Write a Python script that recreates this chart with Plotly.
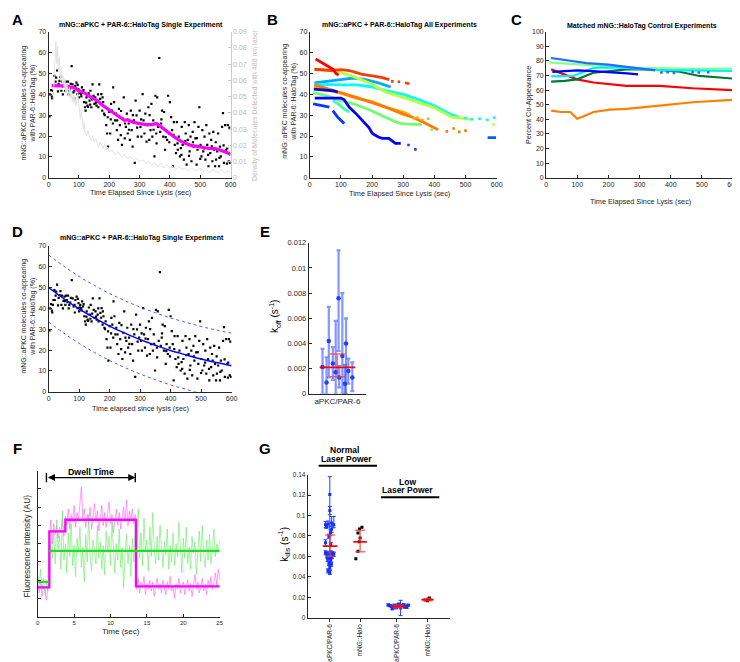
import plotly.graph_objects as go

W, H = 740, 662
FONT = "Liberation Sans, Arial, Helvetica, sans-serif"
AXC = '#262626'

# ---------------- Panel A / D : single experiment ----------------
single_t = [3, 11, 14, 16, 19, 23, 25, 28, 31, 36, 39, 42, 44, 49, 52, 55, 57, 60, 64, 68, 71, 76, 79, 82, 85, 88, 92, 95, 98, 100,
            104, 107, 110, 113, 117, 120, 122, 125, 128, 132, 135, 138, 141, 145, 148, 151, 154, 158, 161, 164, 167, 170, 174, 177, 180,
            183, 187, 190, 193, 196, 200, 203, 206, 209, 213, 216, 219, 222, 225, 229, 232, 235, 238, 242, 245, 248, 251, 255, 258, 261,
            264, 268, 271, 274, 277, 281, 284, 287, 290, 294, 297, 300, 303, 306, 310, 313, 316, 319, 323, 326, 329, 332, 336, 339, 342,
            345, 349, 352, 355, 358, 361, 365, 368, 371, 374, 378, 381, 384, 387, 391, 394, 397, 400, 404, 407, 410, 413, 416, 420, 423,
            426, 429, 433, 436, 439, 442, 446, 449, 452, 455, 459, 462, 465, 468, 471, 475, 478, 481, 484, 488, 491, 494, 497, 501, 504,
            507, 510, 514, 517, 520, 523, 527, 530, 533, 536, 540, 543, 546, 549, 552, 556, 559, 562, 565, 568, 572, 575, 578, 582, 585,
            588, 591, 594, 598,
            5, 8, 12, 20, 33, 47, 53, 62, 66, 73, 86, 96, 102, 108, 115, 124, 130, 137, 143, 156, 163, 172, 178, 185, 195, 205, 212, 226,
            239, 252, 265, 278, 292, 305, 318, 333, 346, 356, 372, 386, 398, 412, 425, 438, 451, 463, 476, 489, 500, 513, 526, 538, 551,
            563, 577, 589, 596]
single_v = [29.4, 38.9, 41.7, 44.0, 48.8, 46.1, 48.0, 51.4, 41.4, 46.4, 48.3, 41.7, 46.1, 43.6, 45.6, 41.7, 46.1, 44.0, 46.1, 41.7,
            42.8, 53.5, 44.8, 40.9, 41.7, 44.0, 45.6, 40.1, 42.5, 38.5,
            41.7, 40.1, 43.3, 40.9, 36.2, 33.8, 32.2, 38.5, 34.6, 40.4, 37.0, 41.7, 33.8, 44.8, 39.3, 35.4, 38.5, 34.6, 37.0, 33.8, 44.8,
            37.8, 40.1, 32.2, 36.2,
            30.7, 33.8, 25.2, 21.2, 14.9, 31.5, 21.2, 35.4, 32.2, 43.3, 36.2, 27.5, 30.7, 22.8, 18.1, 33.0, 25.2, 20.4, 15.7, 28.3, 38.5,
            18.9, 24.4, 30.7, 21.2,
            26.0, 18.1, 32.2, 22.8, 14.9, 27.5, 7.1, 37.0, 29.9, 19.7, 26.0, 32.2, 24.4, 19.7, 40.1, 27.5, 21.2, 30.7, 17.3, 25.2, 33.8,
            18.1, 22.8, 35.4, 19.7,
            27.5, 10.2, 39.3, 21.2, 38.5, 24.4, 57.4, 22.0, 26.0, 32.2, 19.7, 31.5, 13.4, 22.8, 18.1, 39.3, 21.2, 36.2, 29.1, 22.8, 5.5,
            26.7, 15.7, 11.8, 26.7,
            13.4, 19.7, 10.2, 14.2, 24.4, 15.7, 8.7, 26.7, 21.2, 6.3, 18.1, 25.2, 12.6, 19.7, 7.9, 22.0, 14.9, 26.7, 18.9, 6.3, 13.4, 24.4,
            33.8, 15.7, 10.2,
            22.8, 12.6, 19.7, 8.7, 25.2, 15.7, 5.5, 21.2, 11.8, 18.1, 7.9, 22.0, 13.4, 5.5, 8.7, 12.6, 21.2, 5.5, 14.9, 10.2, 24.4, 31.0,
            7.1, 25.2, 13.4,
            6.8, 25.2, 7.9, 7.1,
            40.0, 42.0, 38.0, 44.0, 45.0, 40.0, 43.5, 43.0, 40.0, 45.0, 38.0, 44.5, 40.5, 39.0, 42.0, 36.0, 34.0, 35.0, 37.5, 36.0, 40.0,
            35.5, 38.5, 30.0, 29.0, 28.0, 26.0, 27.5,
            32.0, 26.0, 23.0, 30.0, 24.0, 28.0, 25.5, 30.0, 23.0, 16.5, 28.0, 19.5, 17.0, 20.5, 16.5, 11.0, 17.5, 10.5, 17.0, 19.0, 9.0,
            14.0, 11.0, 15.0, 17.0,
            9.5, 15.5, 14.0, 24.0]

# magenta running average (panel A)
avg_t = [10, 30, 50, 70, 90, 100, 110, 120, 140, 160, 180, 200, 220, 240, 250, 260, 280, 300, 320, 340, 355, 370, 390, 410, 430,
         450, 470, 490, 510, 530, 550, 560, 570, 580, 590, 600]
avg_v = [44.2, 44.2, 44.0, 43.6, 42.8, 41.5, 41.0, 40.5, 38.5, 37.0, 34.5, 32.5, 30.5, 28.5, 27.5, 27.8, 26.5, 26.0, 25.5, 25.5,
         26.0, 24.5, 22.0, 20.0, 18.0, 16.5, 15.5, 15.0, 14.5, 14.0, 14.0, 13.5, 13.2, 12.5, 12.0, 11.0]

# density of molecules (right axis, panel A)
dens_t = [15, 18, 21, 24, 27, 30, 33, 36, 39, 42, 45, 48, 51, 54, 57, 60, 63, 66, 69, 72, 75, 78, 81, 84, 87, 90, 93, 96, 99, 102,
          105, 108, 111, 114, 117, 120, 125, 130, 135, 140, 145, 150, 155, 160, 165, 170, 175, 180, 185, 190, 195, 200,
          210, 220, 230, 240, 250, 260, 270, 280, 290, 300, 310, 320, 330, 340, 350, 360, 370, 380, 390, 400, 410, 420, 430,
          440, 450, 460, 470, 480, 490, 500, 510, 520, 530, 540, 550, 560, 570, 580, 590, 600]
dens_v = [0.048, 0.062, 0.078, 0.084, 0.070, 0.081, 0.066, 0.074, 0.060, 0.068,
          0.058, 0.063, 0.055, 0.061, 0.052, 0.058, 0.054, 0.050, 0.056, 0.049,
          0.053, 0.047, 0.051, 0.046, 0.050, 0.044, 0.048, 0.052, 0.047, 0.040,
          0.036, 0.042, 0.033, 0.030, 0.034, 0.028, 0.026, 0.029, 0.025, 0.023,
          0.026, 0.022, 0.024, 0.021, 0.019, 0.022, 0.020, 0.018, 0.021, 0.017,
          0.019, 0.016, 0.017, 0.014, 0.016, 0.013, 0.014, 0.012, 0.013, 0.011,
          0.012, 0.010, 0.011, 0.009, 0.010, 0.008, 0.009, 0.007, 0.009, 0.006,
          0.008, 0.006, 0.007, 0.005, 0.007, 0.005, 0.006, 0.004, 0.006, 0.005,
          0.004, 0.006, 0.004, 0.005, 0.003, 0.005, 0.004, 0.003, 0.005, 0.003,
          0.004, 0.003]

# ---------------- Panel B : all experiments ----------------
B_red_t = [19, 30, 45, 60, 75, 84, 88, 93]
B_red_v = [56.9, 56.0, 54.8, 53.4, 52.0, 50.0, 49.5, 49.2]
B_orred_t = [15, 40, 70, 100, 127, 150, 169, 201, 233, 255]
B_orred_v = [52.0, 51.6, 51.4, 51.8, 51.4, 50.4, 49.5, 48.8, 48.0, 47.0]
B_orred_dots_t = [265, 286, 310, 316]
B_orred_dots_v = [46.2, 46.0, 45.4, 45.2]
B_yg_t = [15, 50, 100, 150, 200, 244, 300, 350, 400, 456, 490, 520]
B_yg_v = [52.0, 51.6, 50.5, 48.0, 44.8, 41.0, 38.5, 36.0, 33.5, 29.0, 28.6, 28.0]
B_yg_dots_t = [590]
B_yg_dots_v = [25.5]
B_cyan_t = [15, 60, 100, 150, 200, 250, 300, 350, 400, 450, 480]
B_cyan_v = [44.5, 44.8, 44.5, 44.5, 43.5, 41.5, 40.0, 37.5, 34.5, 30.5, 29.0]
B_cyan_dots_t = [500, 520, 545, 570, 592]
B_cyan_dots_v = [28.6, 28.0, 28.3, 27.8, 28.8]
B_sky_t = [15, 50, 100, 140, 180, 220, 260]
B_sky_v = [45.5, 46.0, 47.0, 47.8, 47.0, 45.5, 43.5]
B_or_t = [15, 50, 100, 150, 200, 250, 300, 330, 360, 380, 400, 412]
B_or_v = [44.5, 43.0, 40.5, 38.5, 36.0, 33.5, 30.5, 29.0, 27.0, 25.5, 24.0, 23.0]
B_or_dots_t = [440, 462, 480, 500]
B_or_dots_v = [22.2, 23.6, 22.0, 22.6]
B_lor_t = [15, 50, 100, 150, 200, 250, 300, 322]
B_lor_v = [43.5, 42.5, 40.5, 38.0, 36.5, 33.5, 31.5, 30.0]
B_lor_dots_t = [335, 346, 362, 380]
B_lor_dots_v = [28.5, 28.9, 27.7, 28.3]
B_lg_t = [10, 50, 100, 150, 200, 250, 275, 300, 330, 360]
B_lg_v = [40.8, 39.5, 37.0, 35.0, 32.0, 28.5, 26.8, 25.8, 25.5, 25.5]
B_lg_dots_t = [391]
B_lg_dots_v = [23.0]
B_aq_t = [74, 90, 110, 127]
B_aq_v = [37.0, 35.5, 33.0, 31.5]
B_blue_t = [16, 50, 100, 110, 127, 150, 169, 190, 201, 220, 233, 254, 275, 292]
B_blue_v = [38.2, 38.3, 38.2, 37.5, 33.8, 30.5, 27.5, 24.0, 21.2, 19.5, 18.9, 18.9, 16.5, 16.5]
B_blue_dots_t = [317, 339]
B_blue_dots_v = [15.7, 13.6]
B_dblue_t = [13, 40, 74, 90]
B_dblue_v = [42.5, 42.0, 41.7, 41.0]
B_blue2_t = [11, 40, 63]
B_blue2_v = [35.4, 34.5, 33.8]
B_blue3_t = [74, 90, 111]
B_blue3_v = [32.2, 29.0, 26.0]
B_blue4_t = [571, 598]
B_blue4_v = [19.2, 19.2]

# ---------------- Panel C : controls ----------------
C_lblue_t = [15, 70, 130, 200, 260, 320, 350]
C_lblue_v = [82.0, 80.5, 78.5, 77.5, 76.0, 74.0, 73.5]
C_lblue_dots_t = [370, 390, 410, 470, 490, 520]
C_lblue_dots_v = [72.0, 72.3, 71.8, 72.5, 72.0, 72.3]
C_blue_t = [20, 60, 100, 150, 200, 237, 260, 295]
C_blue_v = [72.5, 73.2, 73.5, 73.0, 72.5, 72.0, 71.5, 70.8]
C_cyan_t = [16, 50, 88, 120, 152, 200, 258, 364, 470, 598]
C_cyan_v = [69.4, 69.5, 69.7, 72.5, 75.3, 75.6, 75.3, 73.7, 73.5, 73.2]
C_lg_t = [8, 100, 152, 258, 364, 470, 598]
C_lg_v = [79.0, 78.0, 77.0, 75.5, 74.8, 74.6, 74.8]
C_dg_t = [16, 60, 99, 152, 205, 258, 343, 428, 492, 600]
C_dg_v = [65.8, 66.3, 67.4, 71.9, 73.0, 74.2, 74.2, 72.6, 69.7, 67.9]
C_red_t = [16, 60, 99, 152, 258, 364, 470, 600]
C_red_v = [74.2, 70.5, 67.4, 65.2, 62.9, 62.9, 61.3, 60.0]
C_or_t = [16, 46, 78, 99, 115, 152, 205, 258, 364, 470, 600]
C_or_v = [46.0, 45.0, 45.0, 40.4, 41.6, 45.0, 46.7, 47.2, 49.4, 51.7, 53.3]

# ---------------- Panel D : exponential fit ----------------
fit_t = [0, 50, 100, 150, 200, 250, 300, 350, 400, 450, 500, 550, 600]
fit_v = [50.0, 44.6, 39.7, 35.4, 31.5, 28.1, 25.0, 22.3, 19.8, 17.7, 15.7, 14.0, 12.5]
fit_upper = [65.6, 60.2, 55.3, 51.0, 47.1, 43.7, 40.6, 37.9, 35.4, 33.3, 31.3, 29.6, 28.1]
fit_lower = [33.5, 28.1, 23.2, 18.9, 15.0, 11.6, 8.5, 5.8, 3.3, 1.2, -0.8, -2.5, -4.0]

# ---------------- Panel E : koff ----------------
E_x = [0.74, 0.81, 0.85, 0.92, 0.97, 1.02, 1.03, 1.086, 1.13, 1.15, 1.19, 1.26]
E_k = [0.00212, 0.00089, 0.0042, 0.0024, 0.0017, 0.0076, 0.0013, 0.0030, 0.0008, 0.0040, 0.0018, 0.0013]
E_hi = [0.00356, 0.0029, 0.0069, 0.0037, 0.0058, 0.0114, 0.0022, 0.0080, 0.0023, 0.0060, 0.0028, 0.0025]
E_lo = [0.0, 0.0, 0.0013, 0.0011, 0.0, 0.0034, 0.0005, 0.0, 0.0, 0.0, 0.0008, 0.0002]
E_mean = 0.0021
E_sd_lo, E_sd_hi = 0.00135, 0.00315

# ---------------- Panel F : example trace ----------------
green_trace = [2.3, 1.8, 2.6, 1.5, 2.1, 1.2, 1.9, 1.4,
               2.2, 4.1, 3.2, 4.8, 2.9, 5.3, 3.7, 4.4, 2.6, 5.8,
               3.1, 4.0, 2.4, 4.6, 3.3, 5.1, 2.8, 3.9, 2.2, 4.3,
               3.5, 4.9, 2.7, 3.8, 1.9, 4.5, 3.0, 5.6, 3.4, 2.5,
               4.2, 3.6, 2.9, 5.0, 3.2, 4.1, 2.6, 3.9, 2.3, 4.7,
               3.5, 4.4, 2.8, 5.2, 3.7, 2.4, 4.0, 3.1, 4.8, 2.7,
               3.8, 1.6, 3.4, 4.5, 2.9, 3.9, 2.2, 4.3, 3.0, 5.1,
               3.5, 5.9, 3.2, 4.6, 2.8, 5.4, 3.6, 4.2, 2.5, 4.9,
               3.3, 5.7, 3.8, 2.9, 4.4, 3.1, 5.0, 3.6, 2.7, 4.1,
               3.4, 4.8, 2.6, 3.9, 3.0, 4.6, 2.8, 4.0, 3.3, 5.2,
               3.7, 2.4, 4.3, 3.2, 4.9, 2.9, 3.8, 2.6, 4.4, 3.5,
               4.1, 2.3, 3.6, 4.7, 3.0, 5.0, 3.4, 2.7, 4.2, 3.1,
               4.5, 2.9, 3.7, 4.8, 3.3, 4.0, 3.5, 4.2]
magenta_trace = [1.9, 1.3, 2.0, 1.1, 1.7, 1.4, 0.9, 1.6,
                 4.2, 5.3, 4.0, 5.1, 4.5, 5.0, 4.3, 4.9, 4.6, 5.4, 4.4,
                 5.5, 5.0, 5.9, 4.8, 5.6, 5.2, 6.1, 4.9, 5.7, 5.3,
                 6.4, 7.1, 5.4, 5.9, 4.9, 5.6, 5.1, 6.0, 4.8, 5.5,
                 6.2, 5.2, 5.8, 4.7, 5.4, 6.1, 5.0, 5.7, 4.9, 5.5,
                 6.3, 5.1, 5.6, 4.6, 5.3, 5.9, 5.0, 5.7, 4.8, 5.4,
                 6.0, 5.2, 6.4, 5.0, 5.8, 5.3, 5.9, 5.1, 5.6,
                 1.5, 2.1, 1.3, 1.9, 1.6, 2.2, 1.2, 1.8, 1.5, 2.0,
                 1.4, 1.9, 1.1, 1.7, 2.1, 1.5, 1.8, 1.3, 2.0, 1.6,
                 1.2, 1.9, 1.5, 2.2, 1.4, 1.7, 1.0, 1.8, 1.5, 2.1,
                 1.3, 1.7, 1.9, 1.2, 1.6, 2.0, 1.4, 1.8, 1.1, 1.7,
                 2.3, 1.5, 1.9, 1.3, 1.6, 2.1, 1.4, 1.8, 1.2, 2.0,
                 1.6, 2.2, 1.5, 1.9, 2.4, 1.7, 2.6, 2.0]
frame_dt = 0.2
magenta_fit_t = [0, 1.6, 3.8, 13.5, 25]
magenta_fit_v = [1.6, 4.67, 5.31, 1.66, 1.66]
green_fit_t = [0.1, 1.5, None, 1.6, 25]
green_fit_v = [1.91, 1.91, None, 3.6, 3.6]
dwell_start, dwell_end, dwell_level = 1.2, 13.4, 7.62

# ---------------- Panel G : kdis ----------------
G_tickvals = [1, 2, 3.2, 4.2]
G_ticktext = ['aPKC/PAR-6', 'mNG::Halo', 'aPKC/PAR-6', 'mNG::Halo']
G1_x = [1.01, 1.01, 0.87, 0.95, 1.07, 1.14, 0.90, 1.07, 1.03, 0.98, 0.87, 1.04, 0.87, 0.95, 1.04, 1.10, 1.14, 0.92, 1.01, 1.08,
        0.94, 1.04, 0.98, 1.06, 1.01, 0.95, 1.01]
G1_y = [0.1206, 0.1048, 0.091, 0.0916, 0.0926, 0.091, 0.0894, 0.0865, 0.083, 0.0797, 0.0732, 0.0716, 0.0635, 0.0626, 0.0635,
        0.0626, 0.062, 0.0603, 0.0587, 0.0597, 0.0571, 0.0561, 0.0529, 0.0523, 0.049, 0.0458, 0.0442]
G1_eplus = [0.0174, 0.004, 0.003, 0.003, 0.0064, 0.008, 0.002, 0.003, 0.003, 0.002, 0.003, 0.002, 0.002, 0.002, 0.002, 0.002,
            0.002, 0.002, 0.002, 0.002, 0.002, 0.002, 0.002, 0.002, 0.002, 0.002, 0.002]
G1_eminus = [0.059, 0.004, 0.003, 0.003, 0.003, 0.003, 0.002, 0.003, 0.003, 0.002, 0.003, 0.002, 0.002, 0.002, 0.002, 0.002,
             0.002, 0.002, 0.002, 0.002, 0.002, 0.002, 0.002, 0.002, 0.002, 0.002, 0.002]
G2_x = [2.06, 1.98, 1.93, 2.00, 1.97, 1.93, 1.86]
G2_y = [0.0884, 0.0868, 0.0829, 0.078, 0.0742, 0.065, 0.0577]
G3_x = [2.92, 2.97, 3.02, 3.07, 3.12, 3.17, 3.22, 3.27, 3.32, 3.37, 3.42, 3.47, 3.52, 3.57, 3.05, 3.25, 3.45, 3.15]
G3_y = [0.0125, 0.0118, 0.0112, 0.0105, 0.0122, 0.0098, 0.0108, 0.0132, 0.0095, 0.0118, 0.0126, 0.0112, 0.0102, 0.0122,
        0.0088, 0.0128, 0.0105, 0.0115]
G3_err = [0.001, 0.001, 0.001, 0.001, 0.001, 0.001, 0.001, 0.001, 0.0075, 0.001, 0.001, 0.001, 0.001, 0.001, 0.001, 0.001,
          0.001, 0.001]
G4_x = [4.14, 4.20, 4.26, 4.22]
G4_y = [0.0172, 0.0165, 0.0192, 0.0182]
G_centers = [1.02, 2.0, 3.24, 4.2]
G_means = [0.070, 0.0742, 0.011, 0.0175]
G_sd_lo = [0.060, 0.0645, 0.0098, 0.0166]
G_sd_hi = [0.081, 0.0855, 0.0122, 0.0186]
G_mean_hw = [0.24, 0.22, 0.25, 0.2]

# ====================================================================
fig = go.Figure()


def xdom(a, b):
    return [a / W, b / W]


def ydom(top, bot):
    return [1 - bot / H, 1 - top / H]


def axis(**kw):
    d = dict(showline=True, linecolor=AXC, linewidth=1, ticks='inside', ticklen=3, tickwidth=1, tickcolor=AXC,
             tickfont=dict(family=FONT, size=7, color=AXC), showgrid=False, zeroline=False, mirror=False,
             fixedrange=True)
    d.update(kw)
    return d


# Panel A
fig.add_trace(go.Scatter(x=dens_t, y=dens_v, mode='lines', line=dict(color='#e2e2e2', width=1),
                         xaxis='x', yaxis='y2'))
fig.add_trace(go.Scatter(x=single_t, y=single_v, mode='markers',
                         marker=dict(symbol='square', size=2.2, color='black'), xaxis='x', yaxis='y'))
fig.add_trace(go.Scatter(x=avg_t, y=avg_v, mode='lines', line=dict(color='#ff00ff', width=3.2),
                         xaxis='x', yaxis='y'))

# Panel B
B_lines = [
    (B_sky_t, B_sky_v, '#00aaff'), (B_cyan_t, B_cyan_v, '#00ffff'), (B_yg_t, B_yg_v, '#b8ff40'),
    (B_lg_t, B_lg_v, '#70ff70'), (B_aq_t, B_aq_v, '#40ffa8'),
    (B_lor_t, B_lor_v, '#ffb000'), (B_or_t, B_or_v, '#ff7a00'), (B_orred_t, B_orred_v, '#ff3a00'),
    (B_red_t, B_red_v, '#ff0000'), (B_blue_t, B_blue_v, '#0000ff'), (B_dblue_t, B_dblue_v, '#0a10c8'),
    (B_blue2_t, B_blue2_v, '#0838ff'), (B_blue3_t, B_blue3_v, '#0838ff'), (B_blue4_t, B_blue4_v, '#0060ff'),
]
for tt, vv, col in B_lines:
    fig.add_trace(go.Scatter(x=tt, y=vv, mode='lines', line=dict(color=col, width=2.8),
                             xaxis='x2', yaxis='y3'))
B_dots = [
    (B_orred_dots_t, B_orred_dots_v, '#ff3a00'), (B_yg_dots_t, B_yg_dots_v, '#b8ff40'),
    (B_cyan_dots_t, B_cyan_dots_v, '#00ffff'), (B_or_dots_t, B_or_dots_v, '#ff7a00'),
    (B_lor_dots_t, B_lor_dots_v, '#ffb000'), (B_lg_dots_t, B_lg_dots_v, '#70ff70'),
    (B_blue_dots_t, B_blue_dots_v, '#2040ff'),
]
for tt, vv, col in B_dots:
    fig.add_trace(go.Scatter(x=tt, y=vv, mode='markers', marker=dict(symbol='square', size=2.6, color=col),
                             xaxis='x2', yaxis='y3'))

# Panel C
C_lines = [
    (C_or_t, C_or_v, '#ff8000'), (C_red_t, C_red_v, '#ff0000'), (C_dg_t, C_dg_v, '#007a3a'),
    (C_lg_t, C_lg_v, '#88ff88'), (C_cyan_t, C_cyan_v, '#00eeff'), (C_blue_t, C_blue_v, '#0000ff'),
    (C_lblue_t, C_lblue_v, '#1e6eff'),
]
for tt, vv, col in C_lines:
    fig.add_trace(go.Scatter(x=tt, y=vv, mode='lines', line=dict(color=col, width=2.2),
                             xaxis='x3', yaxis='y4'))
fig.add_trace(go.Scatter(x=C_lblue_dots_t, y=C_lblue_dots_v, mode='markers',
                         marker=dict(symbol='square', size=2.5, color='#1e6eff'), xaxis='x3', yaxis='y4'))

# Panel D
fig.add_trace(go.Scatter(x=single_t, y=single_v, mode='markers',
                         marker=dict(symbol='square', size=2.2, color='black'), xaxis='x4', yaxis='y5'))
fig.add_trace(go.Scatter(x=fit_t, y=fit_v, mode='lines', line=dict(color='#0000ff', width=1.5, shape='spline'),
                         xaxis='x4', yaxis='y5'))
for bnd in (fit_upper, fit_lower):
    fig.add_trace(go.Scatter(x=fit_t, y=bnd, mode='lines',
                             line=dict(color='#3050ff', width=0.9, dash='dot', shape='spline'),
                             xaxis='x4', yaxis='y5'))

# Panel E
E_plus = [h - k for h, k in zip(E_hi, E_k)]
E_minus = [k - l for k, l in zip(E_k, E_lo)]
fig.add_trace(go.Scatter(x=E_x, y=E_k, mode='markers', marker=dict(symbol='circle', size=4.5, color='#2040ff'),
                         error_y=dict(type='data', array=E_plus, arrayminus=E_minus, symmetric=False,
                                      color='rgba(50,80,255,0.6)', thickness=2.2, width=2),
                         xaxis='x5', yaxis='y6'))
fig.add_trace(go.Scatter(x=[1.0], y=[E_mean], mode='markers', marker=dict(size=1, color='rgba(0,0,0,0)'),
                         error_y=dict(type='data', array=[E_sd_hi - E_mean], arrayminus=[E_mean - E_sd_lo],
                                      symmetric=False, color='rgba(255,60,60,0.75)', thickness=1.5, width=8),
                         xaxis='x5', yaxis='y6'))
fig.add_trace(go.Scatter(x=[1.0], y=[E_mean], mode='markers', marker=dict(size=1, color='rgba(0,0,0,0)'),
                         error_x=dict(type='data', array=[0.31], color='#ff0000', thickness=1.8, width=0),
                         xaxis='x5', yaxis='y6'))

# Panel F
mag_t = [round(i * frame_dt, 2) for i in range(len(magenta_trace))]
grn_t = [round(i * frame_dt, 2) for i in range(len(green_trace))]
fig.add_trace(go.Scatter(x=mag_t, y=magenta_trace, mode='lines', line=dict(color='rgba(255,90,255,0.75)', width=0.8),
                         xaxis='x6', yaxis='y7'))
fig.add_trace(go.Scatter(x=grn_t, y=green_trace, mode='lines', line=dict(color='rgba(100,235,100,0.75)', width=0.8),
                         xaxis='x6', yaxis='y7'))
fig.add_trace(go.Scatter(x=magenta_fit_t, y=magenta_fit_v, mode='lines',
                         line=dict(color='#ff00ff', width=2.3, shape='hv'), xaxis='x6', yaxis='y7'))
fig.add_trace(go.Scatter(x=green_fit_t, y=green_fit_v, mode='lines',
                         line=dict(color='#22dd22', width=2.3), xaxis='x6', yaxis='y7'))

# Panel G
fig.add_trace(go.Scatter(x=G1_x, y=G1_y, mode='markers', marker=dict(symbol='square', size=3, color='#1030ff'),
                         error_y=dict(type='data', array=G1_eplus, arrayminus=G1_eminus, symmetric=False,
                                      color='#2040ff', thickness=1, width=2),
                         xaxis='x7', yaxis='y8'))
fig.add_trace(go.Scatter(x=G3_x, y=G3_y, mode='markers', marker=dict(symbol='square', size=3, color='#1030ff'),
                         error_y=dict(type='data', array=G3_err, color='#2040ff', thickness=1, width=2),
                         xaxis='x7', yaxis='y8'))
fig.add_trace(go.Scatter(x=G2_x, y=G2_y, mode='markers', marker=dict(symbol='square', size=3, color='black'),
                         xaxis='x7', yaxis='y8'))
fig.add_trace(go.Scatter(x=G4_x, y=G4_y, mode='markers', marker=dict(symbol='square', size=3, color='#400000'),
                         xaxis='x7', yaxis='y8'))
fig.add_trace(go.Scatter(x=G_centers, y=G_means, mode='markers', marker=dict(size=1, color='rgba(0,0,0,0)'),
                         error_y=dict(type='data', array=[h - m for h, m in zip(G_sd_hi, G_means)],
                                      arrayminus=[m - l for m, l in zip(G_means, G_sd_lo)], symmetric=False,
                                      color='rgba(255,60,60,0.75)', thickness=1.5, width=5),
                         xaxis='x7', yaxis='y8'))
fig.add_trace(go.Scatter(x=G_centers, y=G_means, mode='markers', marker=dict(size=1, color='rgba(0,0,0,0)'),
                         error_x=dict(type='data', array=G_mean_hw, color='#ff0000', thickness=1.6, width=0),
                         xaxis='x7', yaxis='y8'))

# ---------------- layout ----------------
fig.update_layout(
    width=W, height=H, autosize=False, margin=dict(l=0, r=0, t=0, b=0),
    paper_bgcolor='white', plot_bgcolor='white', showlegend=False,
    font=dict(family=FONT, color=AXC),
    xaxis=axis(domain=xdom(39, 223), range=[0, 600], dtick=100, anchor='y'),
    yaxis=axis(domain=ydom(20, 168), range=[0, 70], dtick=10, anchor='x'),
    yaxis2=axis(overlaying='y', side='right', anchor='x', range=[0, 0.09], dtick=0.01, linecolor='#c8c8c8',
                tickcolor='#c8c8c8', tickfont=dict(family=FONT, size=7, color='#b8b8b8')),
    xaxis2=axis(domain=xdom(303, 492), range=[0, 600], dtick=100, anchor='y3'),
    yaxis3=axis(domain=ydom(20, 168), range=[0, 70], dtick=10, anchor='x2'),
    xaxis3=axis(domain=xdom(542, 731), range=[0, 600], dtick=100, anchor='y4'),
    yaxis4=axis(domain=ydom(20, 168), range=[0, 100], dtick=10, anchor='x3'),
    xaxis4=axis(domain=xdom(39, 224), range=[0, 600], dtick=100, anchor='y5'),
    yaxis5=axis(domain=ydom(237, 385), range=[0, 70], dtick=10, anchor='x4'),
    xaxis5=axis(domain=xdom(302, 360), range=[0.5, 1.5], tickvals=[1], ticktext=['aPKC/PAR-6'], ticks='',
                anchor='y6', tickfont=dict(family=FONT, size=8, color=AXC)),
    yaxis6=axis(domain=ydom(234, 387), range=[0, 0.012], dtick=0.002, anchor='x5',
                tickfont=dict(family=FONT, size=7.5, color=AXC)),
    xaxis6=axis(domain=xdom(28, 212), range=[0, 25], dtick=5, anchor='y7',
                tickfont=dict(family=FONT, size=6, color=AXC)),
    yaxis7=axis(domain=ydom(465, 613), range=[0, 8], dtick=1, showticklabels=False, anchor='x6'),
    xaxis7=axis(domain=xdom(301, 445), range=[0.29, 4.94], tickvals=G_tickvals, ticktext=G_ticktext,
                tickangle=-90, ticks='outside', anchor='y8', tickfont=dict(family=FONT, size=6.5, color=AXC)),
    yaxis8=axis(domain=ydom(469, 614), range=[0, 0.14], dtick=0.02, anchor='x7',
                tickfont=dict(family=FONT, size=6.5, color=AXC)),
)


def ann(text, x, y, size=7, color=AXC, angle=0, bold=False):
    if bold:
        text = '<b>' + text + '</b>'
    return dict(text=text, x=x / W, y=1 - y / H, xref='paper', yref='paper', showarrow=False,
                font=dict(family=FONT, size=size, color=color), textangle=angle,
                xanchor='center', yanchor='middle')


YLAB = 'mNG::aPKC molecules co-appearing<br>with PAR-6::HaloTag (%)'
anns = [
    ann('A', 8, 8, 15, 'black', bold=True), ann('B', 265, 8, 15, 'black', bold=True),
    ann('C', 512, 8, 15, 'black', bold=True), ann('D', 8, 223, 15, 'black', bold=True),
    ann('E', 258, 223, 15, 'black', bold=True), ann('F', 8, 443, 15, 'black', bold=True),
    ann('G', 258, 443, 15, 'black', bold=True),
    ann('mNG::aPKC + PAR-6::HaloTag Single Experiment', 132, 13, 7, 'black', bold=True),
    ann('mNG::aPKC + PAR-6::HaloTag All Experiments', 394, 13, 7, 'black', bold=True),
    ann('Matched mNG::HaloTag Control Experiments', 639, 14, 7, 'black', bold=True),
    ann('mNG::aPKC + PAR-6::HaloTag Single Experiment', 133, 229, 7, 'black', bold=True),
    ann('Time Elapsed Since Lysis (sec)', 132, 183, 7.3),
    ann('Time Elapsed Since Lysis (sec)', 394, 184, 7.3),
    ann('Time Elapsed Since Lysis (sec)', 637, 192, 7.3),
    ann('Time elapsed since lysis (sec)', 132, 402, 7.3),
    ann(YLAB, 19, 92, 7, angle=-90),
    ann('Density of Molecules Detected with 488 nm laser', 247, 94, 7, '#bdbdbd', angle=-90),
    ann(YLAB, 283, 90, 7, angle=-90),
    ann('Percent Co-Appearance', 524, 94, 7.3, angle=-90),
    ann(YLAB, 19, 308, 7, angle=-90),
    ann('k<sub>off</sub> (s<sup>-1</sup>)', 268, 309, 10, 'black', angle=-90),
    ann('Fluorescence Intensity (AU)', 17, 541, 8.3, angle=-90),
    ann('Time (sec)', 112, 628, 8),
    ann('k<sub>dis</sub> (s<sup>-1</sup>)', 277, 540, 10, 'black', angle=-90),
    ann('Dwell Time', 82, 466, 8.8, 'black', bold=True),
    ann('Normal', 338, 444, 8.5, 'black', bold=True),
    ann('Laser Power', 340, 453, 8.5, 'black', bold=True),
    ann('Low', 402, 476, 8.5, 'black', bold=True),
    ann('Laser Power', 402, 485, 8.5, 'black', bold=True),
]
anns.append(dict(text='', x=dwell_end, y=dwell_level, ax=dwell_start, ay=dwell_level,
                 xref='x6', yref='y7', axref='x6', ayref='y7', showarrow=True,
                 arrowside='end+start', arrowhead=2, arrowsize=1, arrowwidth=1.4, arrowcolor='black'))
fig.update_layout(annotations=anns)

shapes = [
    dict(type='line', xref='paper', yref='paper', x0=312 / W, x1=371 / W, y0=1 - 460 / H, y1=1 - 460 / H,
         line=dict(color='black', width=2)),
    dict(type='line', xref='paper', yref='paper', x0=375 / W, x1=434 / W, y0=1 - 492 / H, y1=1 - 492 / H,
         line=dict(color='black', width=2)),
]
for xv in (dwell_start, dwell_end):
    shapes.append(dict(type='line', xref='x6', yref='y7', x0=xv, x1=xv, y0=dwell_level - 0.25,
                       y1=dwell_level + 0.25, line=dict(color='black', width=1.4)))
fig.update_layout(shapes=shapes)

fig.write_html('out.html')
